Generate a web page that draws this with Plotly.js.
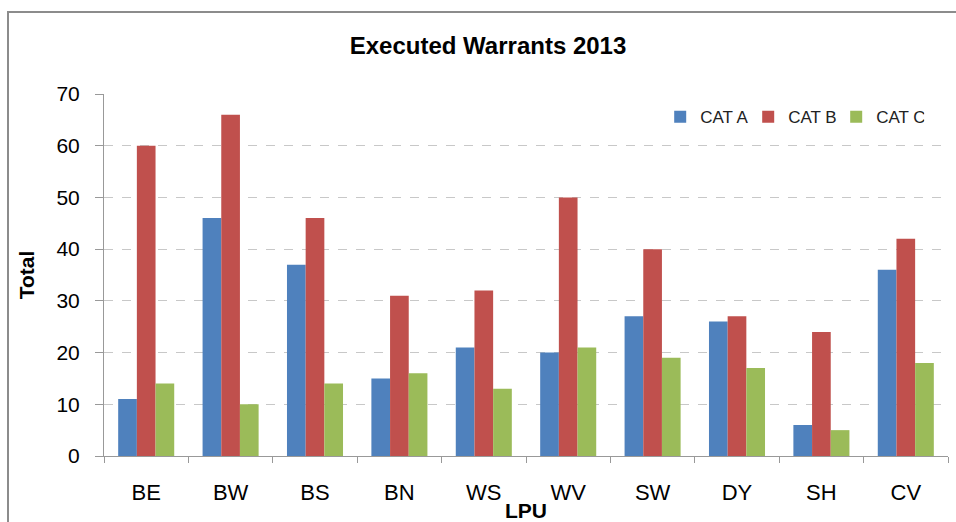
<!DOCTYPE html>
<html>
<head>
<meta charset="utf-8">
<script src="https://cdn.plot.ly/plotly-3.0.1.min.js"></script>
<style>
html,body{margin:0;padding:0;background:#fff;}
#wrap{position:relative;width:956px;height:522px;overflow:hidden;}
#frame{position:absolute;left:7px;top:11px;width:1000px;height:600px;border-left:2px solid #8c8c8c;border-top:2px solid #8c8c8c;}
#chart{position:absolute;left:0;top:0;width:956px;height:522px;}
</style>
</head>
<body>
<div id="wrap"><div id="frame"></div><div id="chart"></div></div>
<script>
const categories = ['BE','BW','BS','BN','WS','WV','SW','DY','SH','CV'];
const catA = [11, 46, 37, 15, 21, 20, 27, 26, 6, 36];
const catB = [60, 66, 46, 31, 32, 50, 40, 27, 24, 42];
const catC = [14, 10, 14, 16, 13, 21, 19, 17, 5, 18];
const seriesNames = ['CAT A','CAT B','CAT C'];
const colors = ['#4F81BD','#C0504D','#9BBB59'];
const yTicks = [0,10,20,30,40,50,60,70];

const font = 'Liberation Sans, Arial, sans-serif';
const data = [catA, catB, catC].map((v,i)=>({
  type:'bar', x:categories, y:v, name:seriesNames[i],
  marker:{color:colors[i], line:{width:0}}
}));

const layout = {
  width:956, height:522,
  paper_bgcolor:'rgba(0,0,0,0)', plot_bgcolor:'rgba(0,0,0,0)',
  margin:{l:104, r:8, t:94, b:66},
  barmode:'group', bargap:0.336, bargroupgap:0,
  title:{text:'<b>Executed Warrants 2013</b>', font:{family:font, size:24, color:'#000'},
         x:0.455, xref:'paper', xanchor:'center', y:0.913, yref:'container', yanchor:'middle'},
  xaxis:{type:'category', tickson:'boundaries', ticks:'outside', ticklen:6, tickcolor:'#999', tickwidth:1,
         showline:true, linecolor:'#999', linewidth:1, showgrid:false,
         tickfont:{family:font, size:22, color:'#000'}, ticklabelstandoff:17,
         range:[-0.5, 9.5],
         title:{text:'<b>LPU</b>', font:{family:font, size:21, color:'#000'}, standoff:0}},
  yaxis:{range:[0,70], tickvals:yTicks, ticks:'outside', ticklen:8, tickcolor:'#999', tickwidth:1,
         showline:true, linecolor:'#999', linewidth:1,
         showgrid:true, gridcolor:'#c8c8c8', griddash:'dash', gridwidth:1, zeroline:false,
         tickfont:{family:font, size:21, color:'#000'}, ticklabelstandoff:11,
         title:{text:'<b>Total</b>', font:{family:font, size:21, color:'#000'}, standoff:16}},
  legend:{orientation:'h', x:0.659, xanchor:'left', y:0.936, yanchor:'middle',
          font:{family:font, size:17, color:'#222'}, bgcolor:'rgba(0,0,0,0)',
          entrywidth:43, traceorder:'normal'},
  showlegend:true
};
Plotly.newPlot('chart', data, layout, {displayModeBar:false, staticPlot:true});
</script>
</body>
</html>
